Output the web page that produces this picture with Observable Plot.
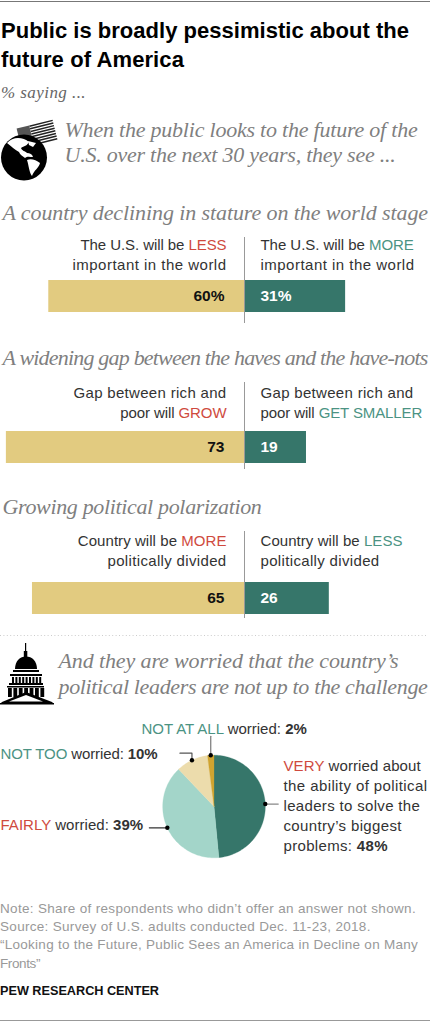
<!DOCTYPE html>
<html>
<head>
<meta charset="utf-8">
<script src="https://cdn.jsdelivr.net/npm/d3@7"></script>
<script src="https://cdn.jsdelivr.net/npm/@observablehq/plot@0.6"></script>
<style>
  html, body { margin: 0; padding: 0; background: #fff; }
  #page { position: relative; width: 433px; height: 1021px; overflow: hidden; }
  #topRule { position: absolute; left: 0; top: 1px; width: 430px; height: 1px; background: #777; }
  #bottomRule { position: absolute; left: 0; top: 1019.5px; width: 430px; height: 1px; background: #999; }
  #header { height: 105px; position: relative; }
  #title { position: absolute; left: 1px; top: 16px; margin: 0; font: bold 22px/29px "Liberation Sans", sans-serif; color: #000; white-space: nowrap; }
  #sub { position: absolute; left: 1px; top: 83px; font: italic 17px/20px "Liberation Serif", serif; color: #666; white-space: nowrap; }
  #footer { position: relative; height: 145px; }
  #note { position: absolute; left: 0; top: 23.5px; font: 13.5px/18.4px "Liberation Sans", sans-serif; color: #999; white-space: nowrap; }
  #brand { position: absolute; left: 0; top: 107px; font: bold 12.7px/16px "Liberation Sans", sans-serif; color: #111; white-space: nowrap; }
  svg { display: block; }
  .ln { display: block; width: max-content; }
</style>
</head>
<body>
<div id="page">
  <div id="topRule"></div>
  <div id="header">
    <h1 id="title"></h1>
    <div id="sub"></div>
  </div>
  <div id="barsHolder"></div>
  <div id="pieHolder"></div>
  <div id="footer">
    <div id="note"></div>
    <div id="brand"></div>
  </div>
  <div id="bottomRule"></div>
</div>
<script>
// ---------- data ----------
const titleLines = ["Public is broadly pessimistic about the", "future of America"];
const subtitle = "% saying ...";
const introLines = ["When the public looks to the future of the", "U.S. over the next 30 years, they see ..."];
const topics = [
  "A country declining in stature on the world stage",
  "A widening gap between the haves and the have-nots",
  "Growing political polarization"
];
const pessimisticValues = [60, 73, 65];
const optimisticValues = [31, 19, 26];
const pessimisticLabels = ["60%", "73", "65"];
const optimisticLabels = ["31%", "19", "26"];
const pessimisticText = [
  ["The U.S. will be {r|LESS}", "important in the world"],
  ["Gap between rich and", "poor will {r|GROW}"],
  ["Country will be {r|MORE}", "politically divided"]
];
const optimisticText = [
  ["The U.S. will be {g|MORE}", "important in the world"],
  ["Gap between rich and", "poor will {g|GET SMALLER}"],
  ["Country will be {g|LESS}", "politically divided"]
];
const worryIntro = ["And they are worried that the country\u2019s", "political leaders are not up to the challenge"];
const sliceNames = ["VERY", "FAIRLY", "NOT TOO", "NOT AT ALL"];
const sliceValues = [48, 39, 10, 2];
const sliceColors = ["#36766a", "#a3d5c9", "#ecdcac", "#d0a430"];
const noteLines = [
  "Note: Share of respondents who didn\u2019t offer an answer not shown.",
  "Source: Survey of U.S. adults conducted Dec. 11-23, 2018.",
  "\u201cLooking to the Future, Public Sees an America in Decline on Many",
  "Fronts\u201d"
];
const brand = "PEW RESEARCH CENTER";

// ---------- style ----------
const TAN = "#e2cb80", GREEN = "#36766a";
const SERIF = "Liberation Serif", SANS = "Liberation Sans";
const richColors = { r: "#cf4a3e", g: "#4b9383" };

// measured text widths of the reference, used to set letter spacing
const textWidths = new Map([
  [introLines[0], 353], [introLines[1], 331],
  [topics[0], 425.5], [topics[1], 425], [topics[2], 259],
  [worryIntro[0], 340], [worryIntro[1], 369],
  ["The U.S. will be {r|LESS}", 146], ["The U.S. will be {g|MORE}", 153.3],
  ["important in the world", 154], ["Gap between rich and", 153],
  ["poor will {r|GROW}", 106.3], ["poor will {g|GET SMALLER}", 161.7],
  ["Country will be {r|MORE}", 148.7], ["Country will be {g|LESS}", 142],
  ["politically divided", 119],
  ["{g|NOT AT ALL} worried: {b|2%}", 165.3], ["{g|NOT TOO} worried: {b|10%}", 157],
  ["{r|FAIRLY} worried: {b|39%}", 142.7], ["{r|VERY} worried about", 137.3],
  ["the ability of political", 144], ["leaders to solve the", 136.7],
  ["country\u2019s biggest", 118.3], ["problems: {b|48%}", 104.3]
]);
const htmlWidths = new Map([
  [titleLines[0], 408], [titleLines[1], 183], [subtitle, 85],
  [noteLines[0], 416], [noteLines[1], 370.7], [noteLines[2], 418], [noteLines[3], 40],
  [brand, 159]
]);

// page text outside the SVGs
function fillLines(id, lines) {
  const el = document.getElementById(id);
  lines.forEach(s => {
    const span = document.createElement("span");
    span.className = "ln";
    span.textContent = s;
    el.appendChild(span);
    const w = span.getBoundingClientRect().width;
    span.style.letterSpacing = ((htmlWidths.get(s) - w) / s.length) + "px";
  });
}
fillLines("title", titleLines);
fillLines("sub", [subtitle]);
fillLines("note", noteLines);
fillLines("brand", [brand]);

// one line of text whose baseline sits at (px, py) inside the frame
const line = (str, px, py, o = {}) => Plot.text([str], {
  text: d => d, frameAnchor: "top-left", dx: px, dy: py, lineAnchor: "bottom",
  textAnchor: "start", fontFamily: SANS, fontSize: 15, fill: "#333", ...o
});
const serif = (str, px, py, o = {}) => line(str, px, py, {
  fontFamily: SERIF, fontStyle: "italic", fontSize: 22, fill: "#7f7f7f", ...o
});

// turn {r|WORD} and {b|WORD} into coloured or bold tspans, then fit to width
function enrich(svg) {
  svg.querySelectorAll("text").forEach(t => {
    const s = t.textContent;
    const target = textWidths.get(s);
    if (s.includes("{")) {
      t.textContent = "";
      s.split(/(\{[rgb]\|[^}]*\})/).filter(Boolean).forEach(part => {
        const m = part.match(/^\{([rgb])\|(.*)\}$/);
        const span = document.createElementNS("http://www.w3.org/2000/svg", "tspan");
        span.textContent = m ? m[2] : part;
        if (m && m[1] === "b") span.setAttribute("font-weight", "bold");
        else if (m) span.setAttribute("fill", richColors[m[1]]);
        t.appendChild(span);
      });
    }
    if (target) {
      const n = t.textContent.length;
      t.style.letterSpacing = ((target - t.getComputedTextLength()) / n) + "px";
    }
  });
  return svg;
}

const icon = markup => () => d3.create("svg:g").html(markup).node();

const globeIcon = `
  <g transform="translate(0,0)">
    <g transform="rotate(-14 36 132)">
      <rect x="18" y="124" width="37" height="21" fill="#fff"/>
      ${d3.range(0, 8).map(i => `<rect x="${i < 4 ? 31 : 18}" y="${124 + i * 2.7}" width="${i < 4 ? 24 : 37}" height="1.5" fill="#222"/>`).join("")}
      <rect x="18" y="124" width="13" height="10.5" fill="#555"/>
    </g>
    <circle cx="24" cy="157.5" r="23" fill="#000"/>
    <path d="M7 143 C13 136 23 137 29 142 C27 146 24 146 21 148 C22 151 25 151 27 153 C30 153 32 154 33 157 C30 157 27 156 25 158 C23 156 20 155 19 152 C15 150 12 147 7 143Z" fill="#fff"/>
    <path d="M27 160 C31 158 36 160 40 163 C39 168 34 170 32 176 C29 172 29 166 27 160Z" fill="#fff"/>
    <path d="M28 141 L36 143 L33 147 L29 145Z" fill="#fff"/>
  </g>`;

const capitolIcon = `
  <g transform="translate(0,-531)" fill="#000">
    <rect x="25" y="643" width="1.2" height="10"/>
    <rect x="23.8" y="651" width="3.5" height="8"/>
    <path d="M15 669 C15 661 20 656.5 26 656.5 C32 656.5 37 661 37 669Z"/>
    <rect x="13" y="670" width="26" height="2"/>
    <path d="M10 674 H42 V676 H10Z"/>
    ${d3.range(0, 9).map(i => `<rect x="${12 + i * 3.4}" y="677" width="2" height="6"/>`).join("")}
    <rect x="9" y="683" width="34" height="2"/>
    <rect x="7" y="686" width="37" height="1.5"/>
    ${d3.range(0, 7).map(i => `<rect x="${8 + i * 5.4}" y="688" width="3.8" height="9"/>`).join("")}
    <path d="M0 704 L2 702 L26 692 L52 702 L54 704Z"/>
    <path d="M9 701.5 L26 695 L43 701.5Z" fill="#fff"/>
    <rect x="0" y="703" width="54" height="1.5"/>
  </g>`;

// ---------- bars ----------
const BARS_TOP = 105, BARS_H = 531;
const pxPerPct = 3.262, centre = 244;
const bt = y => y - BARS_TOP;

const rows = topics.map((t, i) => ({
  topic: t, less: pessimisticValues[i], more: optimisticValues[i],
  lessLabel: pessimisticLabels[i], moreLabel: optimisticLabels[i]
}));

const labelMarks = [];
[249, 397, 545].forEach((base, i) => {
  pessimisticText[i].forEach((s, j) => labelMarks.push(line(s, 226, bt(base + j * 20), { textAnchor: "end" })));
  optimisticText[i].forEach((s, j) => labelMarks.push(line(s, 260, bt(base + j * 20))));
});

const centreRule = (i, top, bottom) => Plot.tickX([rows[i]], {
  x: () => 0, y: "topic", stroke: "#999", strokeWidth: 1, insetTop: -top, insetBottom: -bottom
});

const bars = Plot.plot({
  width: 433, height: BARS_H,
  margin: 0, marginTop: 0, marginRight: 0, marginBottom: 0, marginLeft: 0,
  x: { axis: null, domain: [-centre / pxPerPct, (433 - centre) / pxPerPct], range: [0, 433] },
  y: { axis: null, type: "band", domain: topics, range: [bt(280), bt(280 + 151 * 2 + 32)],
       paddingInner: 1 - 32 / 151, paddingOuter: 0, round: false },
  marks: [
    icon(globeIcon.replace('translate(0,0)', `translate(0,${-BARS_TOP})`)),
    serif(introLines[0], 64, bt(136)),
    serif(introLines[1], 64, bt(161)),
    serif(topics[0], 2, bt(219)),
    serif(topics[1], 2, bt(364)),
    serif(topics[2], 2, bt(513)),
    ...labelMarks,
    Plot.barX(rows, { x1: () => 0, x2: d => -d.less, y: "topic", fill: TAN }),
    Plot.barX(rows, { x1: () => 0, x2: "more", y: "topic", fill: GREEN }),
    centreRule(0, 43, 11),
    centreRule(1, 49, 6),
    centreRule(2, 51, 4),
    Plot.text(rows, { x: () => 0, y: "topic", text: "lessLabel", dx: -20, textAnchor: "end",
      fontFamily: SANS, fontWeight: "bold", fontSize: 15.5, fill: "#111" }),
    Plot.text(rows, { x: () => 0, y: "topic", text: "moreLabel", dx: 16, textAnchor: "start",
      fontFamily: SANS, fontWeight: "bold", fontSize: 15.5, fill: "#fff" }),
    Plot.ruleY([0], { frameAnchor: "bottom", x1: -centre / pxPerPct, x2: (427 - centre) / pxPerPct,
      y: () => topics[2], dy: 37.5, stroke: "#999", strokeWidth: 1, strokeDasharray: "1 2.4" })
  ]
});
document.getElementById("barsHolder").appendChild(bars);
enrich(bars);

// ---------- pie ----------
const PIE_TOP = 636, PIE_H = 240, R = 51.3, cx = 213.5, cy = 806 - PIE_TOP;
const pt = y => y - PIE_TOP;
const arcs = d3.pie().sort(null)(sliceValues);
const pieRows = arcs.flatMap((a, i) => {
  const steps = Math.max(2, Math.ceil((a.endAngle - a.startAngle) / 0.03));
  const rim = d3.range(steps + 1).map(k => a.startAngle + (a.endAngle - a.startAngle) * k / steps);
  return [{ slice: sliceNames[i], x: 0, y: 0 },
    ...rim.map(t => ({ slice: sliceNames[i], x: Math.sin(t), y: Math.cos(t) })),
    { slice: sliceNames[i], x: 0, y: 0 }];
});
const midpoints = arcs.map((a, i) => {
  const t = (a.startAngle + a.endAngle) / 2;
  return { slice: sliceNames[i], x: Math.sin(t), y: Math.cos(t) };
});
// leader elbows, relative to each slice's midpoint, in pixels
const leaderOffsets = [[[0, 0], [13, 0]], [[0, 0], [-18, 0]], [[0, 0], [0, -7], [-12, -7]], [[0, 0], [0, -19]]];
const leaderColors = ["#888", "#333", "#555", "#777"];
const leaderMarks = midpoints.map((m, i) => Plot.line(
  leaderOffsets[i].map(([dx, dy]) => ({ x: m.x + dx / R, y: m.y - dy / R })),
  { x: "x", y: "y", stroke: leaderColors[i], strokeWidth: 1.2 }
));

const pie = Plot.plot({
  width: 433, height: PIE_H,
  margin: 0, marginTop: 0, marginRight: 0, marginBottom: 0, marginLeft: 0,
  x: { axis: null, domain: [-cx / R, (433 - cx) / R], range: [0, 433] },
  y: { axis: null, domain: [cy / R, (cy - PIE_H) / R], range: [0, PIE_H] },
  color: { domain: sliceNames, range: sliceColors },
  marks: [
    icon(capitolIcon.replace('translate(0,-531)', `translate(0,${-PIE_TOP})`)),
    serif(worryIntro[0], 58, pt(667)),
    serif(worryIntro[1], 58, pt(693)),
    Plot.line(pieRows, { x: "x", y: "y", z: "slice", fill: "slice", stroke: "slice", strokeWidth: 0.3, curve: "linear" }),
    ...leaderMarks,
    Plot.dot(midpoints, { x: "x", y: "y", r: 2.2, fill: "#000", stroke: "none" }),
    line("{g|NOT AT ALL} worried: {b|2%}", 141, pt(733)),
    line("{g|NOT TOO} worried: {b|10%}", 0, pt(758)),
    line("{r|FAIRLY} worried: {b|39%}", 0, pt(829)),
    line("{r|VERY} worried about", 283, pt(770)),
    line("the ability of political", 283, pt(790)),
    line("leaders to solve the", 283, pt(810)),
    line("country\u2019s biggest", 283, pt(830)),
    line("problems: {b|48%}", 283, pt(850))
  ]
});
document.getElementById("pieHolder").appendChild(pie);
enrich(pie);
</script>
</body>
</html>
